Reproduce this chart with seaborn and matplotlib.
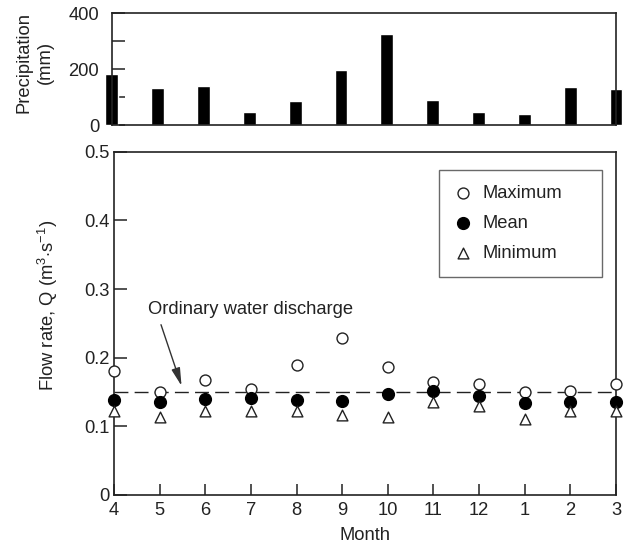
import numpy as np
import pandas as pd
import matplotlib
matplotlib.use("Agg")
import matplotlib.pyplot as plt
import seaborn as sns

months = ["4", "5", "6", "7", "8", "9", "10", "11", "12", "1", "2", "3"]
precip = [182, 132, 139, 47, 87, 199, 326, 89, 47, 41, 136, 131]
q_max = [0.181, 0.150, 0.168, 0.155, 0.189, 0.228, 0.186, 0.164, 0.162, 0.150, 0.151, 0.162]
q_mean = [0.138, 0.135, 0.140, 0.141, 0.138, 0.137, 0.147, 0.151, 0.144, 0.134, 0.136, 0.135]
q_min = [0.123, 0.114, 0.122, 0.123, 0.122, 0.117, 0.114, 0.136, 0.129, 0.111, 0.122, 0.123]
ordinary_q = 0.15
series_names = ["Maximum", "Mean", "Minimum"]

sns.set_theme(style="white")
plt.rcParams["font.family"] = ["Liberation Sans", "DejaVu Sans"]
plt.rcParams["mathtext.fontset"] = "custom"
plt.rcParams["mathtext.rm"] = "Liberation Sans"
plt.rcParams["mathtext.it"] = "Liberation Sans"
plt.rcParams["text.color"] = "#222222"
plt.rcParams["axes.labelcolor"] = "#222222"
plt.rcParams["xtick.color"] = "#222222"
plt.rcParams["ytick.color"] = "#222222"

FS = 13.2
fig = plt.figure(figsize=(6.33, 5.47), dpi=100)
ax_top = fig.add_axes([0.1765, 0.7709, 0.7966, 0.2048])
ax = fig.add_axes([0.1801, 0.0951, 0.7930, 0.6276])

pos = np.arange(len(months))

# ---- Top panel: precipitation bars ----
dfp = pd.DataFrame({"pos": pos, "month": months, "precip": precip})
sns.barplot(data=dfp, x="month", y="precip", order=months, color="black",
            width=0.28, saturation=1, ax=ax_top)
for p in ax_top.patches:
    p.set_clip_on(False)
ax_top.set_xlim(0, len(months) - 1)
ax_top.set_ylim(0, 400)
ax_top.set_yticks([0, 100, 200, 300, 400])
ax_top.set_yticklabels(["0", "", "200", "", "400"], fontsize=FS)
ax_top.set_xticks([])
ax_top.set_xlabel("")
ax_top.set_ylabel("Precipitation\n(mm)", fontsize=FS, linespacing=1.3)
ax_top.yaxis.set_label_coords(-0.115, 0.56)
ax_top.tick_params(axis="y", direction="in", length=9, width=1.1, pad=9, left=True)
for s in ax_top.spines.values():
    s.set_color("#222222")
    s.set_linewidth(1.2)

# ---- Bottom panel: flow rates ----
df = pd.DataFrame({"pos": pos, "Maximum": q_max, "Mean": q_mean, "Minimum": q_min})
dfl = df.melt(id_vars="pos", value_vars=series_names, var_name="stat", value_name="q")

ax.axhline(ordinary_q, color="#222222", lw=1.0, dashes=(10, 4.5), zorder=1)

styles = {
    "Maximum": dict(marker="o", s=62, facecolor="white", edgecolor="#222222", linewidth=1.0),
    "Mean": dict(marker="o", s=72, facecolor="black", edgecolor="black", linewidth=1.0),
    "Minimum": dict(marker="^", s=60, facecolor="white", edgecolor="#222222", linewidth=1.0),
}
for name in series_names:
    sub = dfl[dfl["stat"] == name]
    sns.scatterplot(data=sub, x="pos", y="q", ax=ax, label=name, zorder=3,
                    clip_on=False, **styles[name])

ax.set_xlim(0, len(months) - 1)
ax.set_ylim(0, 0.5)
ax.set_xticks(pos)
ax.set_xticklabels(months, fontsize=FS)
ax.set_yticks([0, 0.1, 0.2, 0.3, 0.4, 0.5])
ax.set_yticklabels(["0", "0.1", "0.2", "0.3", "0.4", "0.5"], fontsize=FS)
ax.tick_params(axis="y", direction="in", length=9, width=1.1, pad=3, left=True)
ax.tick_params(axis="x", direction="in", length=8, width=1.1, pad=5, bottom=True)
ax.set_xlabel("Month", fontsize=FS)
ax.xaxis.set_label_coords(0.5, -0.094)
ax.set_ylabel("Flow rate, Q (m$^{3}$$\\cdot$s$^{-1}$)", fontsize=FS)
ax.yaxis.set_label_coords(-0.108, 0.553)
for s in ax.spines.values():
    s.set_color("#222222")
    s.set_linewidth(1.2)

leg = ax.legend(loc="upper left", bbox_to_anchor=(0.647, 0.65, 0.325, 0.297),
                mode="expand", borderaxespad=0, fontsize=FS, frameon=True,
                fancybox=False, edgecolor="#444444", labelspacing=0.72,
                handlelength=1.0, handletextpad=0.6, borderpad=0.8)
leg.get_frame().set_linewidth(1.0)

ax.text(0.74, 0.27, "Ordinary water discharge", fontsize=FS, ha="left", va="center")
ax.annotate("", xy=(1.48, 0.159), xytext=(1.03, 0.248),
            arrowprops=dict(arrowstyle="-|>,head_length=0.9,head_width=0.22",
                            lw=1.0, color="#333333", shrinkA=0, shrinkB=0))

fig.savefig("out.png", dpi=100)
